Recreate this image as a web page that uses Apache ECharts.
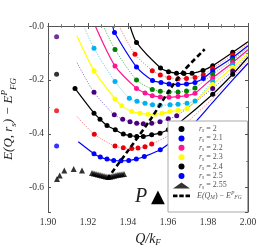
<!DOCTYPE html>
<html><head><meta charset="utf-8">
<script src="https://cdn.jsdelivr.net/npm/echarts@6/dist/echarts.min.js"></script>
<style>html,body{margin:0;padding:0;background:#fff}#c{width:266px;height:245px}</style>
</head><body><div id="c"></div>
<script>
// ---- data ----
const rsValues = [2, 2.05, 2.1, 2.15, 2.2, 2.25, 2.3, 2.35, 2.4, 2.45, 2.5];
const legendRs = [2, 2.1, 2.2, 2.3, 2.4, 2.5, 2.55];
const xTickLabels = ['1.90', '1.92', '1.94', '1.96', '1.98', '2.00'];
const yTickLabels = ['-0.6', '-0.4', '-0.2', '-0.0'];

// computed points (markers) [Q/kF, E]
const m200 = [[1.94425,-0.0611],[1.95625,-0.1556],[1.96025,-0.1693],[1.96425,-0.1752],[1.968,-0.1763],[1.972,-0.1752],[1.9775,-0.1648],[1.98235,-0.1470],[1.99235,-0.0974]];
const m205 = [[1.9435,-0.1048],[1.95215,-0.1656],[1.95615,-0.1815],[1.9605,-0.1919],[1.965,-0.1956],[1.96925,-0.1944],[1.9735,-0.1907],[1.97765,-0.1815],[1.98235,-0.1574],[1.99235,-0.1074]];
const m210 = [[1.93325,-0.0241],[1.94425,-0.1519],[1.95225,-0.2019],[1.9565,-0.2093],[1.9605,-0.2148],[1.965,-0.2167],[1.96925,-0.2148],[1.9735,-0.2093],[1.97765,-0.1944],[1.98235,-0.1667],[1.99235,-0.1167]];
const m215 = [[1.9335,-0.0870],[1.94425,-0.2000],[1.95215,-0.2352],[1.95615,-0.2419],[1.9605,-0.2444],[1.965,-0.2444],[1.96925,-0.2407],[1.9735,-0.2296],[1.98235,-0.1796],[1.99235,-0.1259]];
const m220 = [[1.9335,-0.1481],[1.94425,-0.2315],[1.9485,-0.2481],[1.95215,-0.2585],[1.95615,-0.2630],[1.9605,-0.2641],[1.965,-0.2619],[1.96925,-0.2581],[1.9735,-0.2493],[1.98235,-0.1926],[1.99235,-0.1352]];
const m225 = [[1.923,-0.0826],[1.9335,-0.2063],[1.94065,-0.2678],[1.9445,-0.2796],[1.9485,-0.2870],[1.95225,-0.2919],[1.956,-0.2937],[1.961,-0.2926],[1.965,-0.2900],[1.9695,-0.2863],[1.9735,-0.2778],[1.98235,-0.2056],[1.99235,-0.1444]];
const m230 = [[1.923,-0.1656],[1.9335,-0.2704],[1.93685,-0.2963],[1.94185,-0.3174],[1.946,-0.3241],[1.95,-0.3270],[1.9535,-0.3270],[1.957,-0.3233],[1.961,-0.3174],[1.965,-0.3130],[1.9695,-0.3056],[1.98235,-0.2167],[1.99235,-0.1537]];
const m235 = [[1.923,-0.2456],[1.93315,-0.3296],[1.93735,-0.3456],[1.941,-0.3556],[1.94435,-0.3611],[1.94765,-0.3630],[1.95185,-0.3611],[1.956,-0.3556],[1.96015,-0.3444],[1.96435,-0.3333],[1.98235,-0.2315],[1.99235,-0.1667]];
const m240 = [[1.9135,-0.2315],[1.923,-0.3233],[1.926,-0.3456],[1.9295,-0.3693],[1.93365,-0.3852],[1.93765,-0.4011],[1.941,-0.4063],[1.94435,-0.4100],[1.94765,-0.4100],[1.95185,-0.4037],[1.956,-0.3974],[1.96015,-0.3852],[1.96435,-0.3667],[1.98235,-0.2530],[1.99235,-0.1789]];
const m245 = [[1.92315,-0.4019],[1.9335,-0.4456],[1.93765,-0.4519],[1.94185,-0.4544],[1.945,-0.4530],[1.9485,-0.4481],[1.95185,-0.4381]];
const m250 = [[1.923,-0.4741],[1.92615,-0.4863],[1.9295,-0.4937],[1.93285,-0.4989],[1.9365,-0.5000],[1.94035,-0.4989],[1.94415,-0.4937],[1.94815,-0.4841],[1.95615,-0.4593]];
const markerSets = [m200, m205, m210, m215, m220, m225, m230, m235, m240, m245, m250];

// fitted curve: where each line begins, and its points beyond the last marker
const lineStart = [[1.941,0],[1.9355,0],[1.93235,0],[1.92765,0],[1.92365,0],[1.91785,0],[1.9145,-0.0370],[1.9145,-0.1359],null,[1.9145,-0.3359],[1.91515,-0.4296]];
const lineTail = [
  [[2.0,-0.0581]],[[2.0,-0.0656]],[[2.0,-0.0730]],[[2.0,-0.0804]],[[2.0,-0.0878]],
  [[2.0,-0.0944]],[[2.0,-0.1011]],[[2.0,-0.1085]],[[2.0,-0.1159]],
  [[1.96435,-0.3889],[1.98235,-0.2685],[1.99235,-0.1889],[2.0,-0.1270]],
  [[1.96435,-0.4148],[1.97265,-0.3641],[1.98235,-0.2833],[1.99235,-0.2000],[2.0,-0.1381]]
];

// points on the dotted vertical line
const edgeQ = 1.9043;
const edgeE = [-0.0396, -0.1789, -0.3148, -0.4456];
const edgeRs = [2.35, 2.4, 2.45, 2.5];

// rs = 2.55 (triangles)
const tri255 = [[1.9045,-0.5678],[1.90585,-0.5544],[1.90815,-0.5359],[1.91285,-0.5307],[1.917,-0.5359],
  [1.922,-0.5456],[1.923,-0.5474],[1.924,-0.5493],[1.925,-0.5511],[1.926,-0.5530],[1.927,-0.5548],[1.928,-0.5567],
  [1.929,-0.5585],[1.930,-0.5604],[1.931,-0.5593],[1.932,-0.5574],[1.933,-0.5556],[1.934,-0.5537],[1.935,-0.5519],
  [1.936,-0.5507],[1.937,-0.5500],[1.938,-0.5493]];

// E(Q_M) - E_FG^P
const qM = [1.9295, 1.94035, 1.95165, 1.96085, 1.9675, 1.97835];
const eM = [-0.5678, -0.4593, -0.3419, -0.2370, -0.1693, -0.0863];

// ---- styles ----
const dotColor = ['#000000','#e8000b','#0000ff','#008000','#ff1493','#00b0f0','#ffff00','#4b0082','#000000','#e8000b','#0000ff'];
const lineColor = ['#000000','#f07070','#0000ff','#4caf50','#ff1493','#5ccaf5','#ffff00','#8a6cc8','#000000','#f07070','#0000ff'];
const serif = 'Liberation Serif';

const series = [];
rsValues.forEach((r, i) => {
  const data = [];
  if (lineStart[i]) data.push({value: lineStart[i], symbol: 'none'});
  markerSets[i].forEach(p => data.push(p));
  lineTail[i].forEach(p => data.push({value: p, symbol: 'none'}));
  const dotted = i % 2 === 1;
  series.push({
    name: 'rs' + r, type: 'line', data, smooth: 0.25,
    symbol: 'circle', symbolSize: 5, showAllSymbol: true,
    itemStyle: {color: dotColor[i]},
    lineStyle: {color: lineColor[i], width: dotted ? 0.9 : 1.2, type: dotted ? [1.2, 1.4] : 'solid'},
    z: 2, silent: true, emphasis: {disabled: true}
  });
});
series.push({
  name: 'edge', type: 'scatter', symbol: 'circle', symbolSize: 5,
  data: edgeE.map((e, k) => ({value: [edgeQ, e], itemStyle: {color: dotColor[rsValues.indexOf(edgeRs[k])]}})),
  markLine: {symbol: 'none', silent: true, label: {show: false},
    lineStyle: {type: [1.2, 1.6], color: '#222', width: 0.8}, data: [{xAxis: edgeQ}]},
  z: 3
});
series.push({name: 'rs2.55', type: 'scatter', symbol: 'triangle', symbolSize: 6,
  itemStyle: {color: '#000'}, data: tri255, z: 3});
series.push({name: 'EQM', type: 'line', symbol: 'none', smooth: 0.3,
  data: qM.map((q, k) => [q, eM[k]]),
  lineStyle: {color: '#000', width: 2.6, type: [5, 3]}, itemStyle: {color: '#000'}, z: 4});

const richMain = {
  i: {fontFamily: serif, fontStyle: 'italic', lineHeight: 10, fontSize: 8, color: '#555'},
  n: {fontFamily: serif, lineHeight: 10, fontSize: 8, color: '#555'},
  sub: {fontFamily: serif, fontStyle: 'italic', fontSize: 5.5, lineHeight: 6, verticalAlign: 'bottom', color: '#555'},
  sup: {fontFamily: serif, fontStyle: 'italic', fontSize: 5.5, lineHeight: 6, verticalAlign: 'top', color: '#555'}
};

const axisCommon = {
  type: 'value', z: 5,
  axisLine: {show: true, lineStyle: {color: '#555', width: 1}},
  axisTick: {show: true, inside: true, length: 3, lineStyle: {color: '#555'}},
  minorTick: {show: true, length: 1.8, lineStyle: {color: '#777'}},
  splitLine: {show: false}
};

const chart = echarts.init(document.getElementById('c'), null, {renderer: 'canvas'});
chart.setOption({
  animation: false,
  backgroundColor: '#fff',
  grid: {left: 48, right: 18, top: 26, bottom: 33, outerBoundsMode: 'none'},
  xAxis: [
    Object.assign({}, axisCommon, {
      min: 1.90, max: 2.00, interval: 0.02, position: 'bottom',
      minorTick: Object.assign({}, axisCommon.minorTick, {splitNumber: 3}),
      axisLabel: {fontFamily: serif, fontSize: 9.5, color: '#333', margin: 5,
        formatter: v => xTickLabels[Math.round((v - 1.90) / 0.02)] || ''},
      name: '{i|Q/k}{s|F}', nameLocation: 'middle', nameGap: 10,
      nameTextStyle: {rich: {
        i: {fontFamily: serif, fontStyle: 'italic', fontSize: 14, lineHeight: 16, color: '#222'},
        s: {fontFamily: serif, fontStyle: 'italic', fontSize: 9, lineHeight: 8, verticalAlign: 'bottom', color: '#222'}}}
    }),
    Object.assign({}, axisCommon, {
      min: 1.90, max: 2.00, interval: 0.02, position: 'top',
      minorTick: Object.assign({}, axisCommon.minorTick, {splitNumber: 3}),
      axisLabel: {show: false}
    })
  ],
  yAxis: [
    Object.assign({}, axisCommon, {
      min: -0.69, max: 0, splitNumber: 4, position: 'left',
      minorTick: Object.assign({}, axisCommon.minorTick, {splitNumber: 2}),
      axisLabel: {fontFamily: serif, fontSize: 9.5, color: '#333', margin: 4, showMinLabel: false,
        formatter: v => { const k = Math.round((v + 0.6) / 0.2); return (Math.abs(v + 0.6 - k * 0.2) < 1e-6 && yTickLabels[k]) || ''; }},
      name: '{i|E(Q, r}{s|s}{i|) − E}{p|P}{s|FG}', nameLocation: 'middle', nameGap: 21, nameRotate: 90,
      nameTextStyle: {rich: {
        i: {fontFamily: serif, fontStyle: 'italic', fontSize: 13, lineHeight: 18, color: '#222'},
        s: {fontFamily: serif, fontStyle: 'italic', fontSize: 9, lineHeight: 9, verticalAlign: 'bottom', color: '#222'},
        p: {fontFamily: serif, fontStyle: 'italic', fontSize: 9, lineHeight: 9, verticalAlign: 'top', color: '#222'}}}
    }),
    Object.assign({}, axisCommon, {
      min: -0.69, max: 0, splitNumber: 4, position: 'right',
      minorTick: Object.assign({}, axisCommon.minorTick, {splitNumber: 2}),
      axisLabel: {show: false}
    })
  ],
  legend: {
    orient: 'vertical', left: 168, top: 121, padding: [4, 4, 4, 5],
    itemWidth: 17, itemHeight: 6, itemGap: 0.4, selectedMode: false, z: 6,
    data: legendRs.map(r => ({name: 'rs' + r, icon: r === 2.55 ? 'triangle' : 'circle'}))
      .concat([{name: 'EQM', icon: 'path://M0,0h5v3h-5z M7,0h5v3h-5z M14,0h5v3h-5z'}]),
    formatter: name => name === 'EQM'
      ? '{i|E(Q}{sub|M}{n|) − }{i|E}{sup|P}{sub|FG}'
      : '{i| r}{sub|s}{n| = ' + name.slice(2) + '}',
    textStyle: {rich: richMain, padding: [0, 0, 0, 2]}
  },
  graphic: [
    {type: 'rect', z: 3, silent: true, shape: {x: 168, y: 121, width: 79.5, height: 91},
      style: {fill: '#fff', stroke: '#aaa', lineWidth: 1}},
    {type: 'text', z: 6, silent: true, x: 141, y: 197,
      style: {text: 'P', font: 'italic 20px "Liberation Serif"', fill: '#222', align: 'center', verticalAlign: 'middle'}},
    {type: 'text', z: 6, silent: true, x: 158, y: 197,
      style: {text: '▲', font: '18px "DejaVu Sans"', fill: '#000', align: 'center', verticalAlign: 'middle'}}
  ],
  series
});
</script></body></html>
